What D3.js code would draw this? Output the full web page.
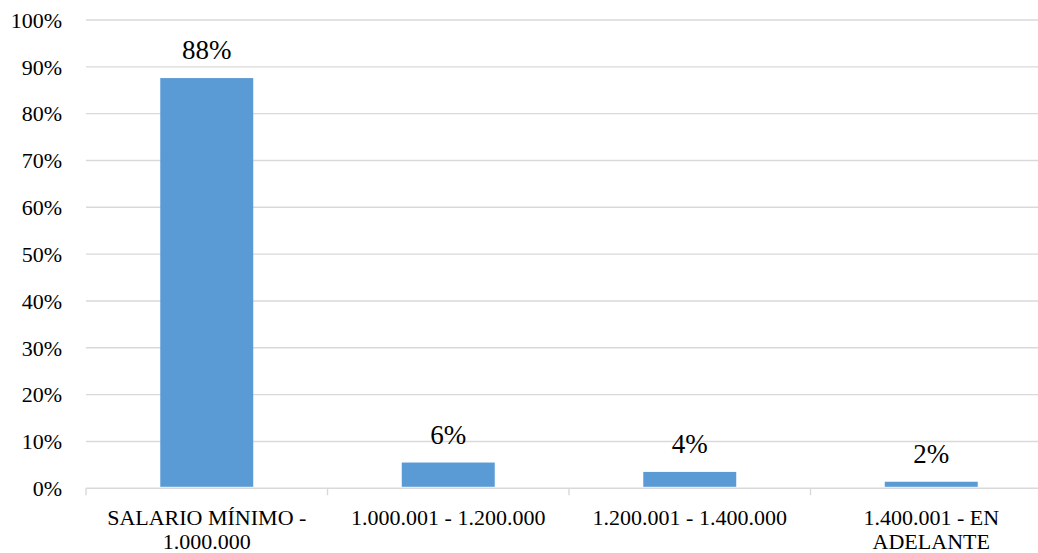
<!DOCTYPE html>
<html>
<head>
<meta charset="utf-8">
<script src="https://cdn.jsdelivr.net/npm/d3@7"></script>
<style>
  html, body { margin: 0; padding: 0; background: #fff; }
  svg { display: block; }
</style>
</head>
<body>
<svg id="chart" width="1038" height="553"></svg>
<script>
const categories = ["SALARIO MÍNIMO - 1.000.000", "1.000.001 - 1.200.000", "1.200.001 - 1.400.000", "1.400.001 - EN ADELANTE"];
const values = [0.876, 0.055, 0.035, 0.014];
const valueLabels = ["88%", "6%", "4%", "2%"];
const yTicks = [0, 0.1, 0.2, 0.3, 0.4, 0.5, 0.6, 0.7, 0.8, 0.9, 1.0];

(function () {
const FONT = "'Times New Roman', Times, 'Liberation Serif', Tinos, 'DejaVu Serif', 'Noto Serif', serif";
const svg = d3.select("#chart");
const W = 1038;
const plotLeft = 86, plotRight = 1052, plotTop = 20, plotBottom = 488.3;

const x = d3.scaleBand().domain(categories).range([plotLeft, plotRight])
  .paddingInner(0.615).paddingOuter(0.3075);
const y = d3.scaleLinear().domain([0, 1]).range([plotBottom, plotTop]);

// gridlines
svg.append("g").selectAll("line").data(yTicks.filter(d => d > 0)).join("line")
  .attr("x1", plotLeft).attr("x2", W)
  .attr("y1", d => y(d)).attr("y2", d => y(d))
  .attr("stroke", "#d9d9d9").attr("stroke-width", 1.4);

// y labels
svg.append("g").selectAll("text").data(yTicks).join("text")
  .attr("x", 62).attr("y", d => y(d)).attr("dy", "0.35em")
  .attr("text-anchor", "end").attr("font-size", 22)
  .style("font-family", FONT)
  .text(d3.format(".0%"));

// bars
svg.append("g").selectAll("rect").data(values).join("rect")
  .attr("x", (d, i) => x(categories[i]))
  .attr("width", x.bandwidth())
  .attr("y", d => y(d))
  .attr("height", d => y(0) - y(d) - 1.5)
  .attr("fill", "#5B9BD5");

// x axis line
svg.append("line").attr("x1", plotLeft).attr("x2", W)
  .attr("y1", y(0)).attr("y2", y(0))
  .attr("stroke", "#d9d9d9").attr("stroke-width", 1.4);

// category boundary ticks
const step = x.step();
const bounds = d3.range(categories.length + 1).map(i => plotLeft + i * step);
svg.append("g").selectAll("line").data(bounds).join("line")
  .attr("x1", d => d).attr("x2", d => d)
  .attr("y1", y(0)).attr("y2", y(0) + 7)
  .attr("stroke", "#d9d9d9").attr("stroke-width", 1.4);

// value labels
svg.append("g").selectAll("text").data(values).join("text")
  .attr("x", (d, i) => x(categories[i]) + x.bandwidth() / 2)
  .attr("y", d => y(d) - 19)
  .attr("text-anchor", "middle").attr("font-size", 27)
  .style("font-family", FONT)
  .text((d, i) => valueLabels[i]);

// category labels with wrapping
const maxW = step * 0.98;
categories.forEach((c, i) => {
  const cx = x(c) + x.bandwidth() / 2;
  const t = svg.append("text").attr("text-anchor", "middle").attr("font-size", 22)
    .style("font-family", FONT);
  const words = c.split(" ");
  let lines = [], cur = [];
  const probe = svg.append("text").attr("font-size", 22).style("font-family", FONT);
  words.forEach(w => {
    const test = cur.concat([w]).join(" ");
    probe.text(test);
    if (probe.node().getComputedTextLength() > maxW && cur.length) {
      lines.push(cur.join(" "));
      cur = [w];
    } else cur.push(w);
  });
  lines.push(cur.join(" "));
  probe.remove();
  lines.forEach((ln, j) => {
    t.append("tspan").attr("x", cx).attr("y", 525 + j * 24).text(ln);
  });
});
})();
</script>
</body>
</html>
